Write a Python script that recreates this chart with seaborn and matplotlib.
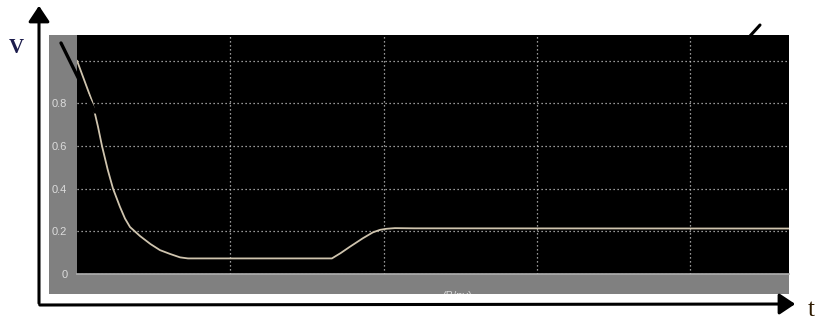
import matplotlib
matplotlib.use("Agg")
import matplotlib.pyplot as plt
from matplotlib.patches import Rectangle, FancyArrowPatch
from matplotlib.lines import Line2D
import seaborn as sns

# Voltage response over time
t = [0, 0.098, 0.137, 0.163, 0.20, 0.235, 0.28, 0.313, 0.346, 0.411,
     0.48, 0.541, 0.607, 0.672, 0.724, 1.663, 1.72, 1.781, 1.866, 1.93,
     1.977, 2.02, 2.074, 2.2, 4.645]
v = [1.0, 0.81, 0.69, 0.60, 0.49, 0.40, 0.315, 0.26, 0.22, 0.178,
     0.14, 0.112, 0.094, 0.078, 0.073, 0.073, 0.098, 0.128, 0.168, 0.195,
     0.207, 0.212, 0.215, 0.214, 0.213]

y_ticks = [0, 0.2, 0.4, 0.6, 0.8, 1.0]
y_tick_labels = ["0", "0.2", "0.4", "0.6", "0.8", ""]
x_ticks = [1, 2, 3, 4]

sns.set_style("dark")
plt.rcParams["font.family"] = ["Liberation Sans", "DejaVu Sans"]

W, H = 816, 322
fig = plt.figure(figsize=(W / 100, H / 100), dpi=100)
fig.patch.set_facecolor("white")


def fx(px):
    return px / W


def fy(py):
    return 1 - py / H


# gray scope panel behind the plot
panel = Rectangle((fx(49), fy(294)), fx(789) - fx(49), fy(35) - fy(294),
                  transform=fig.transFigure, facecolor="#808080",
                  edgecolor="none", zorder=-5)
fig.patches.append(panel)

ax = fig.add_axes([fx(77), fy(274), fx(789) - fx(77), fy(35) - fy(274)])
ax.set_zorder(1)
ax.set_facecolor("black")
sns.lineplot(x=t, y=v, ax=ax, color="#cfc4ae", linewidth=1.3)
ax.set_xlim(0, 4.645)
ax.set_ylim(0, 1.12)
ax.set_yticks(y_ticks)
ax.set_yticklabels(y_tick_labels)
ax.set_xticks(x_ticks)
ax.grid(True, color="#c8c8c8", linestyle=(0, (1, 2.2)), linewidth=0.9)
ax.tick_params(axis="y", direction="out", length=6, width=0.8,
               color="#c8c8c8", labelcolor="#dcdcdc", labelsize=8, pad=1)
ax.tick_params(axis="x", direction="in", length=8, width=1,
               color="#c8c8c8", labelbottom=False)
for side in ["top", "right", "left"]:
    ax.spines[side].set_visible(False)
ax.spines["bottom"].set_color("#b0b0b0")
ax.spines["bottom"].set_linewidth(1.2)
ax.set_xlabel("")
ax.set_ylabel("")

# axis caption partly hidden under the panel edge
cap = fig.text(fx(457), fy(299), "(B/nv)", color="#d8d8d8", fontsize=8,
               ha="center", va="baseline", zorder=-4)
cap.set_clip_path(panel)

# outer coordinate arrows
fig.patches.append(FancyArrowPatch((fx(39), fy(306)), (fx(39), fy(3)),
                                   transform=fig.transFigure,
                                   arrowstyle="-|>,head_length=6,head_width=4",
                                   color="black", linewidth=2.2,
                                   mutation_scale=1.6, zorder=3))
fig.patches.append(FancyArrowPatch((fx(37), fy(305)), (fx(798), fy(304)),
                                   transform=fig.transFigure,
                                   arrowstyle="-|>,head_length=6,head_width=4",
                                   color="black", linewidth=2.2,
                                   mutation_scale=1.6, zorder=3))

# hand-drawn marker strokes
fig.lines.append(Line2D([fx(61), fx(95)], [fy(43), fy(112)],
                        transform=fig.transFigure, color="black",
                        linewidth=2.4, solid_capstyle="round", zorder=5))
fig.lines.append(Line2D([fx(750), fx(760)], [fy(36), fy(25)],
                        transform=fig.transFigure, color="black",
                        linewidth=2.2, solid_capstyle="round", zorder=5))

fig.text(fx(9), fy(53), "V", color="#1c1c4c", fontsize=15,
         family="Liberation Serif", fontweight="bold", ha="left",
         va="baseline")
fig.text(fx(808), fy(316), "t", color="#2e1a00", fontsize=18,
         family="Liberation Serif", ha="left", va="baseline")

fig.savefig("out.png", dpi=100, facecolor="white")
